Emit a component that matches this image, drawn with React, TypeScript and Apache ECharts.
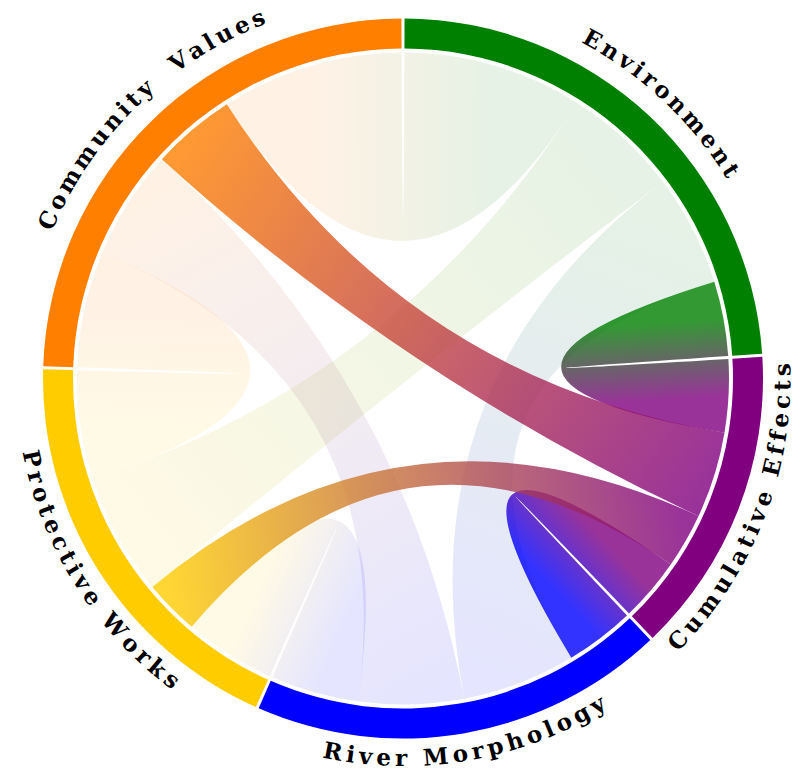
import React, { useEffect, useRef } from 'react';
import * as echarts from 'echarts';

// ---- data ----
const groupNames = ['Environment', 'Cumulative Effects', 'River Morphology', 'Protective Works', 'Community Values'];
// label texts as printed round the ring (the reference shows a wide gap in "Community  Values")
const groupLabels = ['Environment', 'Cumulative Effects', 'River Morphology', 'Protective Works', 'Community  Values'];
const groupColors = ['#008000', '#800080', '#0000ff', '#ffcc00', '#ff8000'];
// matrix[i][j] = size of the ribbon end that group i gives to its link with group j
const envRow = [0, 13.4, 20.0, 20.8, 32.2];
const cumRow = [13.1, 0, 11.4, 9.9, 15.5];
const rivRow = [20.4, 12.4, 0, 15.8, 18.9];
const proRow = [21.9, 9.9, 16.4, 0, 19.6];
const comRow = [32.7, 15.1, 19.7, 20.9, 0];
const matrix = [envRow, cumRow, rivRow, proRow, comRow];
const focusGroup = 'Cumulative Effects';

// ---- geometry / style ----
const W = 806;
const H = 772;
const CX = 403;
const CY = 378.5;
const R_OUT = 360;
const R_IN = 330;
const R_RIB = 326;
const PAD = (0.5 * Math.PI) / 180;
const FONT_SIZE = 23;
const FONT = `bold ${FONT_SIZE}px "DejaVu Serif"`;
const LETTER_SPACING = 4;
const R_LABEL = 389;
const R_LABEL_FLIP = 379;

function pt(r: number, a: number): [number, number] {
  return [CX + r * Math.sin(a), CY - r * Math.cos(a)];
}

function computeLayout() {
  const n = groupNames.length;
  let total = 0;
  matrix.forEach((row) => row.forEach((v) => (total += v)));
  const k = (2 * Math.PI - n * PAD) / total;
  const groups: { start: number; end: number }[] = [];
  const subs: { start: number; end: number }[][] = [];
  let a = PAD / 2;
  for (let i = 0; i < n; i++) {
    const g0 = a;
    subs[i] = [];
    for (let s = 1; s < n; s++) {
      const j = (i - s + n) % n;
      const v = matrix[i][j] * k;
      subs[i][j] = { start: a, end: a + v };
      a += v;
    }
    groups.push({ start: g0, end: a });
    a += PAD;
  }
  const ribbons: { i: number; j: number }[] = [];
  for (let i = 0; i < n; i++) {
    for (let j = i + 1; j < n; j++) {
      if (matrix[i][j] > 0 || matrix[j][i] > 0) ribbons.push({ i, j });
    }
  }
  return { groups, subs, ribbons };
}

function arcCmd(r: number, a0: number, a1: number) {
  const [x, y] = pt(r, a1);
  const large = a1 - a0 > Math.PI ? 1 : 0;
  return `A${r},${r} 0 ${large} 1 ${x},${y}`;
}

function ribbonPath(s: { start: number; end: number }, t: { start: number; end: number }) {
  const r = R_RIB;
  const [s0x, s0y] = pt(r, s.start);
  const [t0x, t0y] = pt(r, t.start);
  return (
    `M${s0x},${s0y} ` +
    arcCmd(r, s.start, s.end) +
    ` Q${CX},${CY} ${t0x},${t0y} ` +
    arcCmd(r, t.start, t.end) +
    ` Q${CX},${CY} ${s0x},${s0y} Z`
  );
}

export default function App() {
  const ref = useRef<HTMLDivElement>(null);
  useEffect(() => {
    document.body.style.margin = '0';
    if (!ref.current) return;
    const chart = echarts.init(ref.current, undefined, { renderer: 'svg' });
    const { groups, subs, ribbons } = computeLayout();
    const focusIdx = groupNames.indexOf(focusGroup);

    // order: faded first, then focused
    const ribbonOrder = ribbons.slice().sort((a, b) => {
      const fa = a.i === focusIdx || a.j === focusIdx ? 1 : 0;
      const fb = b.i === focusIdx || b.j === focusIdx ? 1 : 0;
      return fa - fb;
    });

    // curved labels, one text per character along the arc
    const canvas = document.createElement('canvas');
    const ctx = canvas.getContext('2d')!;
    ctx.font = FONT;
    const labelEls: any[] = [];
    groups.forEach((g, gi) => {
      const label = groupLabels[gi];
      const mid = (g.start + g.end) / 2;
      const flip = mid > Math.PI / 2 && mid < (3 * Math.PI) / 2;
      const r = flip ? R_LABEL_FLIP : R_LABEL;
      const chars = label.split('');
      const widths = chars.map((c) => ctx.measureText(c).width);
      const L = widths.reduce((s, w) => s + w, 0) + (chars.length - 1) * LETTER_SPACING;
      let cum = 0;
      chars.forEach((c, ci) => {
        const p = cum + widths[ci] / 2 - L / 2;
        cum += widths[ci] + LETTER_SPACING;
        if (c === ' ') return;
        const th = flip ? mid - p / r : mid + p / r;
        const [x, y] = pt(r, th);
        labelEls.push({
          type: 'text',
          x,
          y,
          rotation: flip ? Math.PI - th : -th,
          silent: true,
          style: {
            text: c,
            font: FONT,
            fill: '#000',
            align: 'center',
            verticalAlign: 'middle',
          },
        });
      });
    });

    chart.setOption({
      animation: false,
      graphic: { elements: labelEls },
      series: [
        {
          type: 'custom',
          coordinateSystem: 'none',
          silent: true,
          data: ribbonOrder.map((_, idx) => [idx]),
          renderItem: (params: any) => {
            const rb = ribbonOrder[params.dataIndex];
            const s = subs[rb.i][rb.j];
            const t = subs[rb.j][rb.i];
            const [x1, y1] = pt(R_RIB, (s.start + s.end) / 2);
            const [x2, y2] = pt(R_RIB, (t.start + t.end) / 2);
            const focused = rb.i === focusIdx || rb.j === focusIdx;
            return {
              type: 'path',
              shape: { pathData: ribbonPath(s, t) },
              style: {
                fill: new echarts.graphic.LinearGradient(
                  x1,
                  y1,
                  x2,
                  y2,
                  [
                    { offset: 0, color: groupColors[rb.i] },
                    { offset: 1, color: groupColors[rb.j] },
                  ],
                  true
                ),
                opacity: focused ? 0.8 : 0.1,
              },
            };
          },
        },
        {
          type: 'custom',
          coordinateSystem: 'none',
          silent: true,
          data: groupNames.map((_, i) => [i]),
          renderItem: (params: any) => {
            const g = groups[params.dataIndex];
            return {
              type: 'sector',
              shape: {
                cx: CX,
                cy: CY,
                r0: R_IN,
                r: R_OUT,
                startAngle: g.start - Math.PI / 2,
                endAngle: g.end - Math.PI / 2,
                clockwise: true,
              },
              style: { fill: groupColors[params.dataIndex] },
            };
          },
        },
      ],
    });
    return () => chart.dispose();
  }, []);
  return <div ref={ref} style={{ width: W, height: H }} />;
}
